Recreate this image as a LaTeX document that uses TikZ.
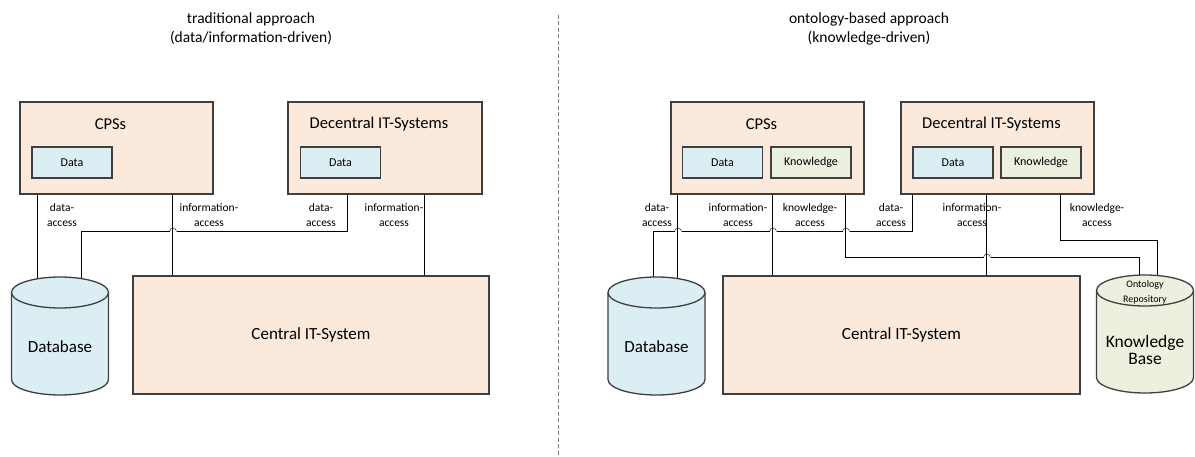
\documentclass[tikz,border=0pt]{standalone}
\usepackage{fontspec}
\setmainfont{Carlito}
\usetikzlibrary{backgrounds}
\definecolor{sysfill}{HTML}{FBE9DB}
\definecolor{datafill}{HTML}{DBEEF3}
\definecolor{knowfill}{HTML}{EBF1DE}
\definecolor{edge}{HTML}{3F3F3F}
\newcommand{\hopleft}{arc[start angle=0,end angle=180,radius=3.5pt]}
\newcommand{\hopright}{arc[start angle=180,end angle=0,radius=3.5pt]}
\begin{document}
\begin{tikzpicture}[x=1pt,y=-1pt,
    system/.style={rectangle,draw=edge,line width=1.3pt,fill=sysfill,inner sep=0pt},
    store/.style={rectangle,draw=edge,line width=1.3pt,inner sep=0pt,
      minimum width=80pt,minimum height=31pt,font=\fontsize{12}{14}\selectfont},
    dbbox/.style={rectangle,inner sep=0pt,outer sep=0pt,minimum width=97pt,minimum height=118pt},
    cyl/.style={draw=edge,line width=1.3pt},
    heading/.style={align=center,font=\fontsize{15.5}{19}\selectfont},
    boxtitle/.style={font=\fontsize{16.5}{20}\selectfont},
    bigtext/.style={align=center,font=\fontsize{17.5}{17}\selectfont},
    access/.style={align=center,font=\fontsize{11.5}{15}\selectfont},
    link/.style={draw=edge,line width=1.2pt}]
  \useasboundingbox (0,0) rectangle (1195,457);

  % divider
  \draw[gray,line width=1pt,dash pattern=on 4pt off 2.5pt] (558,15) -- (558,457);

  % traditional approach
  \node[heading] (head1) at (251,29) {traditional approach\\(data/information-driven)};
  \node[system,minimum width=193pt,minimum height=92pt] (cps1) at (116.5,148) {};
  \node[boxtitle] (cps1title) at ([xshift=-6pt,yshift=-23pt]cps1.north) {CPSs};
  \node[store,fill=datafill] (cps1data) at (72,162.5) {Data};
  \node[system,minimum width=194pt,minimum height=92pt] (dec1) at (385,148) {};
  \node[boxtitle] (dec1title) at ([xshift=-6pt,yshift=-23pt]dec1.north) {Decentral IT-Systems};
  \node[store,fill=datafill] (dec1data) at (340.5,162.5) {Data};
  \node[system,minimum width=356pt,minimum height=118pt,font=\fontsize{17}{20}\selectfont]
    (cen1) at (311,335) {Central IT-System};
  \node[dbbox] (db1) at (60,336) {};

  \node[access] (lab1a) at (62,215) {data-\\access};
  \node[access] (lab1b) at (209,215) {information-\\access};
  \node[access] (lab1c) at (321,215) {data-\\access};
  \node[access] (lab1d) at (394,215) {information-\\access};

  % ontology-based approach
  \node[heading] (head2) at (869,29) {ontology-based approach\\(knowledge-driven)};
  \node[system,minimum width=193pt,minimum height=92pt] (cps2) at (767.5,148) {};
  \node[boxtitle] (cps2title) at ([xshift=-6pt,yshift=-23pt]cps2.north) {CPSs};
  \node[store,fill=datafill] (cps2data) at (722.5,162.5) {Data};
  \node[store,fill=knowfill] (cps2know) at (811,162.5) {Knowledge};
  \node[system,minimum width=193pt,minimum height=92pt] (dec2) at (997.5,148) {};
  \node[boxtitle] (dec2title) at ([xshift=-6pt,yshift=-23pt]dec2.north) {Decentral IT-Systems};
  \node[store,fill=datafill] (dec2data) at (953,162.5) {Data};
  \node[store,fill=knowfill] (dec2know) at (1041,162.5) {Knowledge};
  \node[system,minimum width=357pt,minimum height=118pt,font=\fontsize{17}{20}\selectfont]
    (cen2) at (901.5,335) {Central IT-System};
  \node[dbbox] (db2) at (656.5,336) {};
  \node[dbbox] (kb) at (1145,334) {};

  \node[access] (lab2a) at (657,215) {data-\\access};
  \node[access] (lab2b) at (738,215) {information-\\access};
  \node[access] (lab2c) at (810,215) {knowledge-\\access};
  \node[access] (lab2d) at (891,215) {data-\\access};
  \node[access] (lab2e) at (972,215) {information-\\access};
  \node[access] (lab2f) at (1097,215) {knowledge-\\access};

  % storage cylinders
  \foreach \n/\c in {db1/datafill,db2/datafill,kb/knowfill}{
    \draw[cyl,fill=\c] ([yshift=-15.5pt]\n.north west) -- ([yshift=15.5pt]\n.south west)
      arc[start angle=180,end angle=360,x radius=48.5pt,y radius=15.5pt]
      -- ([yshift=-15.5pt]\n.north east)
      arc[start angle=0,end angle=180,x radius=48.5pt,y radius=15.5pt] -- cycle;
    \draw[cyl] ([yshift=-15.5pt]\n.north west)
      arc[start angle=180,end angle=360,x radius=48.5pt,y radius=15.5pt];
  }
  \node[font=\fontsize{17}{20}\selectfont] (db1text) at ([yshift=-11pt]db1.center) {Database};
  \node[font=\fontsize{17}{20}\selectfont] (db2text) at ([yshift=-11pt]db2.center) {Database};
  \node[align=center,font=\fontsize{10}{15}\selectfont] (kbtop) at (1145,292.5) {Ontology\\Repository};
  \node[bigtext] (kbtext) at (1145,349.5) {Knowledge\\Base};

  % access lines, hops drawn as separate pieces
  \begin{scope}[on background layer,link]
    \draw ([xshift=18pt]cps1.south west) -- ([xshift=18pt]cps1.south west |- db1.center);
    \draw ([xshift=153pt]cps1.south west) -- ([xshift=153pt]cps1.south west |- cen1.north);
    \draw ([xshift=60pt]dec1.south west) |- (176.5,231.5);
    \draw (176.5,231.5) \hopleft;
    \draw (169.5,231.5) -| ([xshift=21pt]db1.center);
    \draw ([xshift=137pt]dec1.south west) -- ([xshift=137pt]dec1.south west |- cen1.north);

    \draw ([xshift=7pt]cps2.south west) -- ([xshift=7pt]cps2.south west |- db2.center);
    \draw ([xshift=102pt]cps2.south west) -- ([xshift=102pt]cps2.south west |- cen2.north);
    \draw ([xshift=175pt]cps2.south west) |- (983.5,257.5);
    \draw (983.5,257.5) \hopright;
    \draw (990.5,257.5) -| ([xshift=-6pt]kb.center);
    \draw ([xshift=12pt]dec2.south west) |- (849.5,231.5);
    \draw (849.5,231.5) \hopleft;
    \draw (842.5,231.5) -- (776.5,231.5);
    \draw (776.5,231.5) \hopleft;
    \draw (769.5,231.5) -- (681.5,231.5);
    \draw (681.5,231.5) \hopleft;
    \draw (674.5,231.5) -| ([xshift=-3.5pt]db2.center);
    \draw ([xshift=86pt]dec2.south west) -- ([xshift=86pt]dec2.south west |- cen2.north);
    \draw ([xshift=160pt]dec2.south west) |- (1157,240.5) -- ([xshift=12pt]kb.center);
  \end{scope}
\end{tikzpicture}
\end{document}
